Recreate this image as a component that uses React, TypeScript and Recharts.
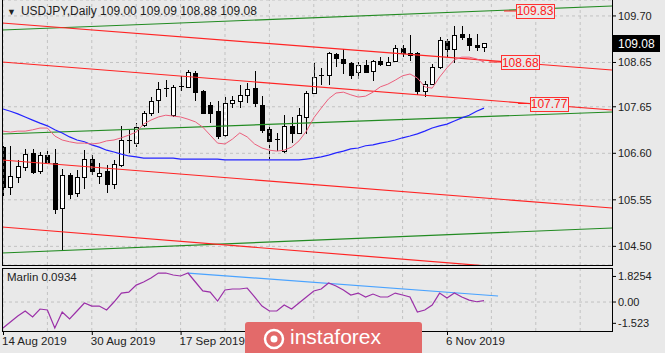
import { ComposedChart, Bar, Line, XAxis, YAxis, CartesianGrid, ReferenceLine, ReferenceDot } from "recharts";

const FONT = '"Liberation Sans", Arial, sans-serif';
const BG = "#e9e9e9";
const GRID = "#c2c2c2";

const symbol = "USDJPY,Daily";

// daily candles, 14 Aug 2019 .. 13 Nov 2019
const open = [
    106.74, 105.84, 106.07, 106.29, 106.61, 106.2, 106.56, 106.38, 105.37, 106.11,
    105.7, 106.07, 106.47, 106.09, 106.2, 105.91, 106.34, 106.9, 106.83, 107.24,
    107.51, 107.8, 108.05, 107.46, 108.1, 108.1, 108.41, 108.01, 107.69, 107.55,
    107.01, 107.74, 107.78, 107.92, 108.07, 107.69, 107.15, 106.92, 106.65, 107.22,
    107.06, 107.42, 107.96, 108.35, 108.37, 108.84, 108.73, 108.64, 108.44, 108.59,
    108.46, 108.68, 108.59, 108.68, 108.98, 108.86, 108.86, 108.01, 108.16, 108.55,
    109.13, 108.95, 109.29, 109.2, 109.04, 109.0,
];
const high = [
    106.77, 106.77, 106.45, 106.7, 106.7, 106.63, 106.65, 106.7, 106.25, 106.16,
    106.22, 106.67, 106.56, 106.38, 106.34, 106.45, 107.22, 107.13, 107.28, 107.55,
    107.87, 108.21, 108.25, 108.14, 108.35, 108.48, 108.46, 108.03, 107.76, 107.78,
    107.87, 107.89, 108.14, 108.19, 108.46, 107.89, 107.26, 107.06, 107.46, 107.42,
    107.62, 108.01, 108.64, 108.53, 108.89, 108.86, 108.95, 108.66, 108.66, 108.71,
    108.71, 108.77, 108.77, 109.04, 109.04, 109.27, 108.89, 108.23, 108.62, 109.22,
    109.18, 109.47, 109.47, 109.29, 109.29, 109.09,
];
const low = [
    105.64, 105.66, 105.93, 106.2, 106.13, 106.13, 106.38, 105.23, 104.39, 105.57,
    105.61, 105.79, 106.11, 105.91, 105.7, 105.79, 106.29, 106.61, 106.74, 107.19,
    107.44, 107.51, 107.87, 107.42, 108.01, 108.07, 107.78, 107.49, 107.28, 106.92,
    106.97, 107.62, 107.62, 107.74, 107.65, 107.06, 106.47, 106.65, 106.61, 106.83,
    107.06, 107.03, 107.94, 108.14, 108.14, 108.55, 108.39, 108.28, 108.28, 108.41,
    108.23, 108.57, 108.57, 108.66, 108.77, 108.68, 107.92, 107.87, 108.14, 108.5,
    108.77, 108.64, 109.16, 108.91, 108.91, 108.88,
];
const close = [
    105.84, 106.09, 106.31, 106.58, 106.18, 106.56, 106.4, 105.34, 106.11, 105.68,
    106.07, 106.47, 106.2, 106.16, 105.91, 106.36, 106.9, 106.88, 107.19, 107.51,
    107.78, 108.05, 108.07, 108.1, 108.12, 108.44, 107.98, 107.51, 107.51, 106.99,
    107.74, 107.8, 107.92, 108.05, 107.74, 107.13, 106.88, 106.9, 107.22, 107.06,
    107.46, 107.96, 108.32, 108.37, 108.86, 108.75, 108.64, 108.37, 108.59, 108.44,
    108.68, 108.62, 108.66, 108.98, 108.86, 108.82, 108.01, 108.16, 108.55, 109.16,
    108.95, 109.27, 109.22, 109.04, 109.0, 109.08,
];

// moving averages (blue = slow, pink = fast)
const maSlow = [
    107.6, 107.55, 107.49, 107.42, 107.35, 107.28, 107.22, 107.13, 107.06, 106.97,
    106.9, 106.86, 106.79, 106.74, 106.67, 106.63, 106.58, 106.54, 106.52, 106.49,
    106.49, 106.49, 106.49, 106.49, 106.47, 106.47, 106.47, 106.47, 106.47, 106.47,
    106.45, 106.45, 106.45, 106.45, 106.45, 106.45, 106.45, 106.45, 106.45, 106.45,
    106.45, 106.47, 106.49, 106.52, 106.56, 106.61, 106.65, 106.7, 106.72, 106.77,
    106.79, 106.83, 106.86, 106.9, 106.95, 106.99, 107.04, 107.1, 107.17, 107.22,
    107.26, 107.33, 107.4, 107.46, 107.55, 107.62,
];
const maFast = [
    107.1, 107.08, 107.1, 107.1, 107.13, 107.17, 107.17, 106.99, 106.9, 106.86,
    106.83, 106.83, 106.81, 106.83, 106.88, 106.9, 106.95, 107.01, 107.08, 107.26,
    107.35, 107.42, 107.46, 107.44, 107.42, 107.37, 107.31, 107.19, 107.01, 106.83,
    106.81, 106.92, 107.06, 106.97, 106.81, 106.72, 106.67, 106.65, 106.67, 106.74,
    106.88, 107.1, 107.4, 107.62, 107.83, 107.96, 107.98, 107.92, 107.87, 107.89,
    107.98, 108.1, 108.16, 108.25, 108.35, 108.39, 108.3, 108.1, 108.07, 108.32,
    108.53, 108.71, 108.77, 108.77, 108.73, 108.66,
];

const marlin = [
    -1.86, -1.43, -1.0, -0.64, -1.07, -0.5, -0.57, -1.86, -0.71, -1.21,
    -0.64, -0.07, -0.29, -0.29, -0.57, 0.0, 0.64, 0.71, 1.21, 1.43,
    1.71, 2.07, 2.07, 1.93, 1.86, 2.07, 1.43, 0.79, 0.71, 0.07,
    0.86, 0.93, 0.93, 1.0, 0.36, -0.29, -0.64, -0.64, -0.21, -0.5,
    -0.07, 0.36, 0.79, 0.93, 1.36, 1.14, 0.86, 0.5, 0.64, 0.36,
    0.57, 0.36, 0.36, 0.64, 0.5, 0.36, -0.71, -0.57, -0.21, 0.64,
    0.29, 0.64, 0.36, 0.14, 0.02, 0.0934,
];

// the 3 Oct / 21 Oct labels sit under the watermark, only the visible ones are kept
const dateTicks = [0, 12, 24, 60];
const dateLabels = ["14 Aug 2019", "30 Aug 2019", "17 Sep 2019", "6 Nov 2019"];
const priceTicks = [109.7, 108.65, 107.65, 106.6, 105.55, 104.5];
const oscTicks = [1.8254, 0, -1.523];
const oscLabels = ["1.8254", "0.00", "-1.523"];
const gridIdx = [0, 6, 12, 18, 24, 30, 36, 42, 48, 54, 60, 66, 72, 78];

// channel lines: [bar index, price] at both ends
const redLines = [
    [-0.135, 109.541, 82.3, 108.48],
    [-0.135, 108.661, 82.3, 107.577],
    [-0.135, 106.449, 82.3, 105.365],
    [-0.135, 104.937, 82.3, 103.831],
];
const greenLines = [
    [-0.135, 109.383, 82.3, 109.925],
    [-0.135, 107.036, 82.3, 107.532],
    [-0.135, 104.35, 82.3, 104.914],
];
const levelTags = [
    { i: 71.9, p: 109.812, text: "109.83" },
    { i: 69.9, p: 108.66, text: "108.68" },
    { i: 73.8, p: 107.724, text: "107.77" },
];
const marlinTrend = [
    { i: 25, v: 2.07 },
    { i: 66.9, v: 0.43 },
];

const X_DOMAIN: [number, number] = [-0.135, 82.3];

const candles = open.map((o, i) => ({ i, o, h: high[i], l: low[i], c: close[i], slow: maSlow[i], fast: maFast[i] }));
const osc = marlin.map((v, i) => ({ i, v }));
const seg = (s: number[]) => [
    { i: s[0], v: s[1] },
    { i: s[2], v: s[3] },
];

const last = candles[candles.length - 1];

function Candle(props: any) {
    const { x, y, width, height, payload } = props;
    if (x == null || !payload) return null;
    const top = Math.min(y, y + height);
    const span = Math.abs(height);
    const range = payload.h - payload.l;
    const k = range > 0 ? span / range : 0;
    const py = (v: number) => top + (payload.h - v) * k;
    const cx = Math.round(x + width / 2);
    const yo = py(payload.o);
    const yc = py(payload.c);
    const bodyTop = Math.round(Math.min(yo, yc));
    const bodyH = Math.round(Math.abs(yo - yc));
    const up = payload.c >= payload.o;
    return (
        <g>
            <line x1={cx + 0.5} x2={cx + 0.5} y1={Math.round(top)} y2={Math.round(top + span)} stroke="#000" />
            {bodyH < 2 ? (
                <line x1={cx - 2} x2={cx + 3} y1={bodyTop + 0.5} y2={bodyTop + 0.5} stroke="#000" />
            ) : (
                <rect x={cx - 1.5} y={bodyTop + 0.5} width={4} height={bodyH} fill={up ? "#fff" : "#000"} stroke="#000" />
            )}
        </g>
    );
}

function LevelTag({ cx, cy, text }: { cx: number; cy: number; text: string }) {
    const w = 38;
    return (
        <g>
            <line x1={cx - w / 2 - 12} x2={cx - w / 2} y1={cy} y2={cy} stroke="#ff2020" />
            <rect x={Math.round(cx - w / 2) + 0.5} y={Math.round(cy - 7) + 0.5} width={w} height={14} fill={BG} stroke="#ff3030" />
            <text x={cx} y={cy + 4.5} textAnchor="middle" fontSize={12} fill="#ff2020" fontFamily={FONT}>
                {text}
            </text>
        </g>
    );
}

function PriceTag(props: any) {
    const vb = props.viewBox || {};
    const x0 = vb.x + vb.width;
    const y0 = vb.y;
    return (
        <g>
            <rect x={x0} y={Math.round(y0 - 8)} width={48} height={17} fill="#000" />
            <text x={x0 + 6} y={y0 + 4.5} fontSize={12} fill="#fff" fontFamily={FONT}>
                {last.c.toFixed(2)}
            </text>
        </g>
    );
}

function DateTick(props: any) {
    const { x, y, payload } = props;
    const idx = dateTicks.indexOf(payload.value);
    return (
        <g>
            <line x1={x + 0.5} x2={x + 0.5} y1={y - 4} y2={y} stroke="#000" />
            <text x={x - 1} y={y + 10} fontSize={11.5} fill="#222" fontFamily={FONT}>
                {dateLabels[idx]}
            </text>
        </g>
    );
}

export default function App() {
    return (
        <div
            style={{
                position: "absolute",
                left: 0,
                top: 0,
                width: 665,
                height: 353,
                background: BG,
                overflow: "hidden",
                fontFamily: FONT,
            }}
        >
            <ComposedChart width={665} height={268} data={candles} margin={{ top: 0, right: 0, bottom: 3, left: 2 }}>
                <CartesianGrid vertical={false} stroke={GRID} strokeDasharray="3 3" />
                <XAxis type="number" dataKey="i" domain={X_DOMAIN} allowDataOverflow hide />
                <YAxis
                    orientation="right"
                    width={53}
                    domain={[104.079, 110.06]}
                    allowDataOverflow
                    ticks={priceTicks}
                    tickFormatter={(v: number) => v.toFixed(2)}
                    tick={{ fontSize: 11, fill: "#222", fontFamily: FONT }}
                    tickSize={4}
                    tickMargin={2}
                    tickLine={{ stroke: "#000" }}
                    axisLine={false}
                />
                {gridIdx.map((g) => (
                    <ReferenceLine key={"g" + g} x={g} stroke={GRID} strokeDasharray="3 3" />
                ))}
                {greenLines.map((s, k) => (
                    <Line
                        key={"gl" + k}
                        data={seg(s)}
                        dataKey="v"
                        stroke="#228b22"
                        strokeWidth={1.2}
                        dot={false}
                        isAnimationActive={false}
                    />
                ))}
                {redLines.map((s, k) => (
                    <Line
                        key={"rl" + k}
                        data={seg(s)}
                        dataKey="v"
                        stroke="#ff2424"
                        strokeWidth={1.2}
                        dot={false}
                        isAnimationActive={false}
                    />
                ))}
                <Line dataKey="slow" stroke="#2424ff" strokeWidth={1.2} dot={false} isAnimationActive={false} />
                <Line dataKey="fast" stroke="#ec5f7c" strokeWidth={1} dot={false} isAnimationActive={false} />
                <Bar dataKey={(d: any) => [d.l, d.h]} barSize={5} shape={<Candle />} isAnimationActive={false} />
                {levelTags.map((t) => (
                    <ReferenceDot
                        key={t.text}
                        x={t.i}
                        y={t.p}
                        r={0}
                        shape={(p: any) => <LevelTag cx={p.cx} cy={p.cy} text={t.text} />}
                    />
                ))}
                <ReferenceLine y={last.c} stroke="none" label={(p: any) => <PriceTag {...p} />} />
            </ComposedChart>

            <div style={{ position: "absolute", left: 0, top: 268 }}>
                <ComposedChart width={665} height={85} data={osc} margin={{ top: 0, right: 0, bottom: 0, left: 2 }}>
                    <XAxis
                        type="number"
                        dataKey="i"
                        domain={X_DOMAIN}
                        allowDataOverflow
                        ticks={dateTicks}
                        interval={0}
                        tick={<DateTick />}
                        tickSize={4}
                        tickMargin={0}
                        tickLine={false}
                        axisLine={false}
                        height={22}
                    />
                    <YAxis
                        orientation="right"
                        width={53}
                        domain={[-2.07, 2.43]}
                        allowDataOverflow
                        ticks={oscTicks}
                        tickFormatter={(v: number) => oscLabels[oscTicks.indexOf(v)]}
                        tick={{ fontSize: 11, fill: "#222", fontFamily: FONT }}
                        tickSize={4}
                        tickMargin={2}
                        tickLine={{ stroke: "#000" }}
                        axisLine={false}
                    />
                    <ReferenceLine y={0} stroke={GRID} strokeDasharray="3 3" />
                    {gridIdx.map((g) => (
                        <ReferenceLine key={"og" + g} x={g} stroke={GRID} strokeDasharray="3 3" />
                    ))}
                    <Line
                        data={marlinTrend}
                        dataKey="v"
                        stroke="#4aa3ff"
                        strokeWidth={1.2}
                        dot={false}
                        isAnimationActive={false}
                    />
                    <Line dataKey="v" stroke="#9b30a8" strokeWidth={1.2} dot={false} isAnimationActive={false} />
                </ComposedChart>
            </div>

            {/* frames */}
            <div
                style={{
                    position: "absolute",
                    left: 2,
                    top: -1,
                    width: 611,
                    height: 267,
                    border: "1px solid #000",
                    boxSizing: "border-box",
                    pointerEvents: "none",
                }}
            />
            <div
                style={{
                    position: "absolute",
                    left: 2,
                    top: 268,
                    width: 611,
                    height: 64,
                    border: "1px solid #000",
                    boxSizing: "border-box",
                    pointerEvents: "none",
                }}
            />

            <div style={{ position: "absolute", left: 7, top: 4, fontSize: 12, color: "#222", whiteSpace: "nowrap" }}>
                <span style={{ fontSize: 9, marginRight: 5 }}>▼</span>
                {`${symbol}  ${last.o.toFixed(2)} ${last.h.toFixed(2)} ${last.l.toFixed(2)} ${last.c.toFixed(2)}`}
            </div>
            <div style={{ position: "absolute", left: 7, top: 271, fontSize: 11.5, color: "#222" }}>
                {`Marlin ${marlin[marlin.length - 1].toFixed(4)}`}
            </div>

            {/* watermark */}
            <div
                style={{
                    position: "absolute",
                    left: 245,
                    top: 322,
                    width: 177,
                    height: 40,
                    background: "#e36a6a",
                    borderRadius: 3,
                    color: "#fff",
                }}
            >
                <svg width={30} height={30} style={{ position: "absolute", left: 14, top: 2 }}>
                    <circle cx={15} cy={15} r={9} fill="none" stroke="#fff" strokeWidth={2.5} />
                    <circle cx={15} cy={15} r={3.5} fill="#fff" />
                </svg>
                <span style={{ position: "absolute", left: 45, top: 2, fontSize: 21, lineHeight: "26px" }}>instaforex</span>
            </div>
        </div>
    );
}
